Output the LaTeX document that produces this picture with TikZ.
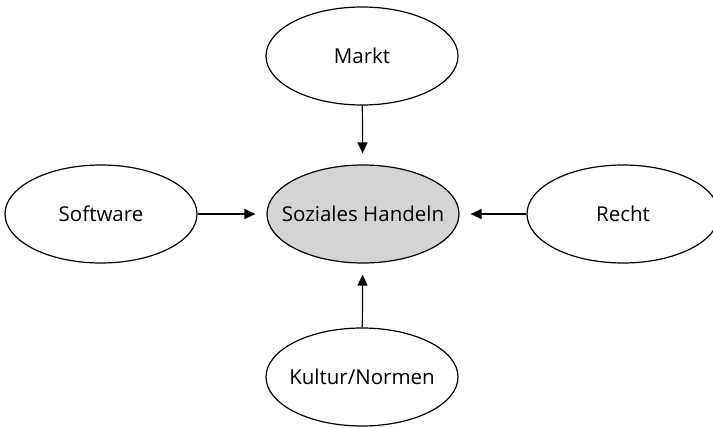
\documentclass[tikz,border=0pt]{standalone}
\usepackage{fontspec}
\setmainfont{Open Sans}
\usetikzlibrary{shapes.geometric,arrows.meta}
\begin{document}
\begin{tikzpicture}[x=1pt,y=-1pt,
  oval/.style={draw=black,line width=1.2pt,ellipse,minimum width=192pt,minimum height=98pt,inner sep=0pt,
    label={[font=\fontsize{20.5}{22}\selectfont]center:#1}},
  link/.style={line width=1.2pt,-{Triangle[length=11pt,width=10pt]},shorten >=11pt}]
\useasboundingbox (0,0) rectangle (713,428);
\node[oval=Soziales Handeln,fill={rgb,255:red,212;green,212;blue,212}] (s) at (363,214) {};
\node[oval=Markt] (m) at (362,56) {};
\node[oval=Software] (w) at (101,214) {};
\node[oval=Recht] (r) at (623,214) {};
\node[oval=Kultur/Normen] (k) at (362,377) {};
\draw[link] (m) -- (s);
\draw[link] (w) -- (s);
\draw[link] (r) -- (s);
\draw[link] (k) -- (s);
\end{tikzpicture}
\end{document}
